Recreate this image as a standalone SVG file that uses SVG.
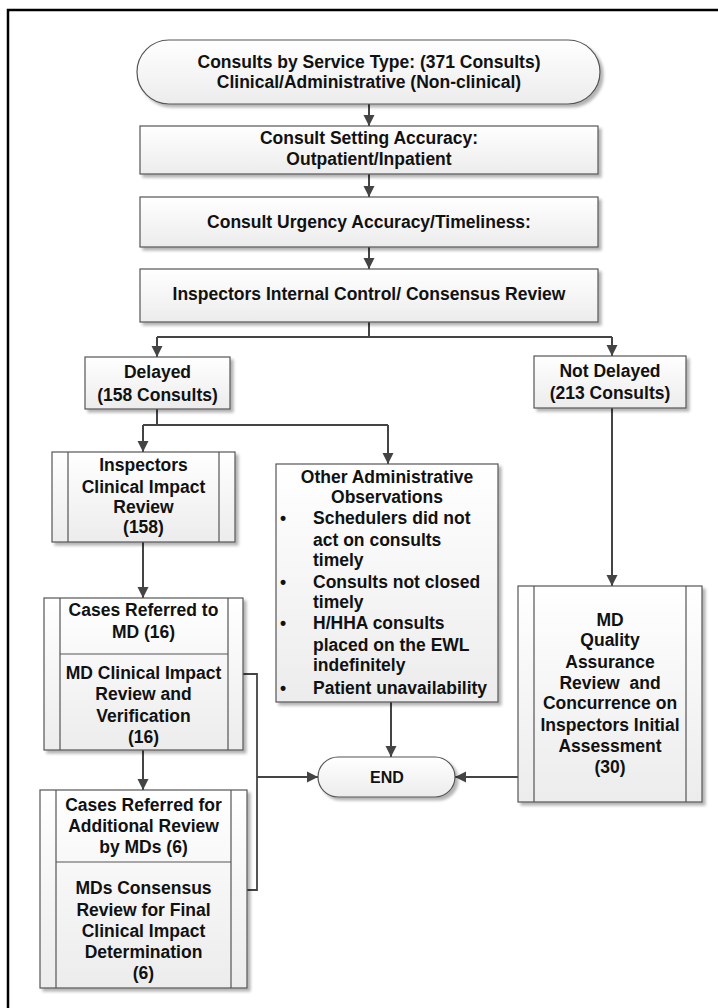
<svg xmlns="http://www.w3.org/2000/svg" width="718" height="1008" viewBox="0 0 718 1008">
<style>
.box{fill:url(#g);stroke:#555;stroke-width:1.2;filter:url(#sh)}
.ln{fill:none;stroke:#555;stroke-width:1.2}
.t{font-family:"Liberation Sans",Arial,sans-serif;font-weight:bold;font-size:17.5px;fill:#111;text-anchor:middle}
.tl{font-family:"Liberation Sans",Arial,sans-serif;font-weight:bold;font-size:17.5px;fill:#111}
.c{fill:none;stroke:#444;stroke-width:2}
.ca{fill:none;stroke:#444;stroke-width:2;marker-end:url(#ah)}
</style>
<defs>
<linearGradient id="g" x1="0" y1="0" x2="0" y2="1"><stop offset="0" stop-color="#ffffff"/><stop offset="1" stop-color="#ececec"/></linearGradient>
<filter id="sh" x="-10%" y="-10%" width="125%" height="125%"><feGaussianBlur in="SourceAlpha" stdDeviation="1.5"/><feOffset dx="2.5" dy="2.5" result="b"/><feComponentTransfer><feFuncA type="linear" slope="0.3"/></feComponentTransfer><feMerge><feMergeNode/><feMergeNode in="SourceGraphic"/></feMerge></filter>
<marker id="ah" markerUnits="userSpaceOnUse" markerWidth="12" markerHeight="12" viewBox="0 0 12 12" refX="11" refY="6" orient="auto"><path d="M0,0.5 L11,6 L0,11.5 z" fill="#444"/></marker>
</defs>
<rect x="0" y="0" width="718" height="1008" fill="#fff"/>
<path d="M8,1008 V10 H718" fill="none" stroke="#000" stroke-width="2.5"/>

<g id="connectors">
<path class="ca" d="M369,104 V126"/>
<path class="ca" d="M369,174 V197"/>
<path class="ca" d="M369,247 V269"/>
<path class="c" d="M369,322 V337"/>
<path class="c" d="M157,337 H612"/>
<path class="ca" d="M157,337 V357"/>
<path class="ca" d="M612,337 V356"/>
<path class="c" d="M157,409 V425"/>
<path class="c" d="M143,425 H388"/>
<path class="ca" d="M143,425 V452"/>
<path class="ca" d="M388,425 V464"/>
<path class="ca" d="M143,542 V598"/>
<path class="ca" d="M143,750 V790"/>
<path class="c" d="M243,674 H257 V890 H247" style="stroke-width:1.8"/>
<path class="ca" d="M257,777 H318"/>
<path class="ca" d="M391,702 V757"/>
<path class="ca" d="M612,408 V586"/>
<path class="ca" d="M518,777 H455"/>
</g>

<g id="start">
<rect class="box" x="137" y="40" width="463" height="64" rx="32"/>
<text class="t" x="369" y="68">Consults by Service Type: (371 Consults)</text>
<text class="t" x="369" y="88">Clinical/Administrative (Non-clinical)</text>
</g>

<g id="setting">
<rect class="box" x="140" y="126" width="458" height="48"/>
<text class="t" x="369" y="144">Consult Setting Accuracy:</text>
<text class="t" x="369" y="165">Outpatient/Inpatient</text>
</g>

<g id="urgency">
<rect class="box" x="140" y="197" width="458" height="50"/>
<text class="t" x="369" y="228">Consult Urgency Accuracy/Timeliness:</text>
</g>

<g id="internal">
<rect class="box" x="140" y="269" width="458" height="53"/>
<text class="t" x="369" y="300">Inspectors Internal Control/ Consensus Review</text>
</g>

<g id="delayed">
<rect class="box" x="85" y="357" width="145" height="52"/>
<text class="t" x="157.5" y="378">Delayed</text>
<text class="t" x="157.5" y="401">(158 Consults)</text>
</g>

<g id="notdelayed">
<rect class="box" x="534" y="356" width="152" height="52"/>
<text class="t" x="610" y="377">Not Delayed</text>
<text class="t" x="610" y="399">(213 Consults)</text>
</g>

<g id="inspectors-review">
<rect class="box" x="52" y="452" width="183" height="90"/>
<path class="ln" d="M68,452 V542 M219,452 V542"/>
<text class="t" x="143.5" y="471">Inspectors</text>
<text class="t" x="143.5" y="493">Clinical Impact</text>
<text class="t" x="143.5" y="513">Review</text>
<text class="t" x="143.5" y="533">(158)</text>
</g>

<g id="md-review">
<rect class="box" x="44" y="598" width="199" height="152"/>
<path class="ln" d="M60,598 V750 M228,598 V750 M60,654 H228"/>
<text class="t" x="143.5" y="616">Cases Referred to</text>
<text class="t" x="143.5" y="638">MD (16)</text>
<text class="t" x="143.5" y="679">MD Clinical Impact</text>
<text class="t" x="143.5" y="700">Review and</text>
<text class="t" x="143.5" y="722">Verification</text>
<text class="t" x="143.5" y="743">(16)</text>
</g>

<g id="mds-consensus">
<rect class="box" x="40" y="790" width="207" height="198"/>
<path class="ln" d="M56,790 V988 M231,790 V988 M56,862 H231"/>
<text class="t" x="143.5" y="811">Cases Referred for</text>
<text class="t" x="143.5" y="832">Additional Review</text>
<text class="t" x="143.5" y="853">by MDs (6)</text>
<text class="t" x="143.5" y="894">MDs Consensus</text>
<text class="t" x="143.5" y="916">Review for Final</text>
<text class="t" x="143.5" y="937">Clinical Impact</text>
<text class="t" x="143.5" y="958">Determination</text>
<text class="t" x="143.5" y="979">(6)</text>
</g>

<g id="other-admin">
<rect class="box" x="276" y="464" width="222" height="238"/>
<text class="t" x="387" y="483">Other Administrative</text>
<text class="t" x="387" y="503">Observations</text>
<g class="tl">
<text x="280" y="524">•</text>
<text x="313" y="524">Schedulers did not</text>
<text x="313" y="546">act on consults</text>
<text x="313" y="566">timely</text>
<text x="280" y="588">•</text>
<text x="313" y="588">Consults not closed</text>
<text x="313" y="608">timely</text>
<text x="280" y="629">•</text>
<text x="313" y="629">H/HHA consults</text>
<text x="313" y="651">placed on the EWL</text>
<text x="313" y="671">indefinitely</text>
<text x="280" y="694">•</text>
<text x="313" y="694">Patient unavailability</text>
</g>
</g>

<g id="md-qa">
<rect class="box" x="518" y="586" width="184" height="216"/>
<path class="ln" d="M534,586 V802 M686,586 V802"/>
<text class="t" x="610" y="626">MD</text>
<text class="t" x="610" y="646">Quality</text>
<text class="t" x="610" y="668">Assurance</text>
<text class="t" x="610" y="689" xml:space="preserve">Review  and</text>
<text class="t" x="610" y="709">Concurrence on</text>
<text class="t" x="610" y="731">Inspectors Initial</text>
<text class="t" x="610" y="752">Assessment</text>
<text class="t" x="610" y="773">(30)</text>
</g>

<g id="end">
<rect class="box" x="318" y="757" width="137" height="40" rx="20"/>
<text class="t" x="387" y="783" style="font-size:16px">END</text>
</g>
</svg>
